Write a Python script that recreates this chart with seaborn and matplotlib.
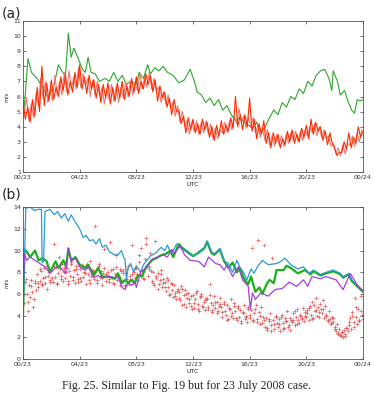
import numpy as np
import pandas as pd
import matplotlib
matplotlib.use("Agg")
import matplotlib.pyplot as plt
import seaborn as sns

# ---- data (hours after 00 UTC 23 July) ----
tick_hours = [0, 4, 8, 12, 16, 20, 24]
tick_labels = ["00/23", "04/23", "08/23", "12/23", "16/23", "20/23", "00/24"]

# (a) observed wind, 10-min steps
obs_a = [5.6, 4.5, 5.3, 4.3, 5.8, 4.7, 6.6, 5.0, 8.0, 5.4, 6.9, 5.7,
         7.1, 5.8, 6.6, 6.0, 7.3, 6.4, 7.4, 6.1, 7.0, 6.3, 7.6, 6.6,
         8.1, 6.5, 7.3, 6.2, 7.4, 6.5, 7.1, 5.9, 6.8, 5.6, 6.8, 5.9,
         6.9, 5.5, 6.6, 5.7, 6.9, 5.9, 7.0, 5.8, 6.7, 6.0, 7.2, 6.3,
         7.3, 6.2, 7.0, 6.5, 7.5, 6.8, 7.4, 6.3, 7.1, 5.7, 6.7, 5.9,
         6.3, 5.3, 5.9, 4.8, 5.8, 5.0, 5.1, 4.2, 4.7, 3.6, 4.6, 3.8,
         4.5, 3.6, 4.2, 3.5, 4.5, 3.8, 4.3, 3.3, 4.0, 3.1, 4.1, 3.4,
         4.4, 3.5, 4.1, 3.7, 4.6, 3.9, 6.0, 4.0, 4.8, 3.8, 4.8, 4.0,
         5.9, 3.7, 4.5, 3.2, 4.2, 3.5, 4.4, 2.9, 3.6, 2.6, 3.6, 2.9,
         3.5, 2.6, 3.2, 2.8, 3.7, 3.0, 3.8, 2.9, 3.5, 3.0, 3.9, 3.3,
         4.1, 3.2, 4.5, 3.5, 4.3, 3.7, 4.0, 3.1, 3.7, 2.8, 3.6, 2.9,
         2.6, 2.1, 2.3, 2.3, 3.0, 2.5, 3.6, 2.6, 3.3, 2.9, 4.0, 3.3, 3.7]
obs_a_hours = [i / 6 for i in range(len(obs_a))]

# (a) second observed trace (lighter), offset 5 min
obs_a2 = [4.9, 5.9, 4.4, 5.5, 4.6, 6.2, 5.4, 7.2, 5.9, 7.0, 5.6, 6.5,
          5.7, 7.4, 6.1, 7.0, 6.1, 7.6, 6.3, 7.7, 6.5, 7.3, 6.5, 7.9,
          6.6, 7.5, 6.7, 7.2, 6.0, 7.1, 6.1, 7.0, 6.0, 6.6, 5.5, 6.5,
          5.8, 6.8, 5.7, 6.7, 5.6, 6.6, 5.9, 7.0, 6.0, 7.0, 6.1, 6.9,
          6.4, 7.5, 6.5, 7.3, 6.6, 7.6, 6.5, 7.2, 6.4, 6.6, 5.6, 6.3,
          5.5, 6.1, 5.2, 5.6, 4.7, 5.4, 4.3, 5.0, 4.0, 4.4, 3.5, 4.3,
          3.7, 4.4, 3.5, 4.3, 3.6, 4.4, 3.5, 4.2, 3.2, 3.9, 3.2, 3.8,
          3.6, 4.3, 3.6, 4.4, 3.8, 4.7, 4.2, 5.2, 4.3, 4.7, 3.9, 4.6,
          4.0, 4.6, 3.6, 4.1, 3.3, 3.9, 3.1, 3.8, 2.8, 3.4, 2.7, 3.5,
          2.8, 3.4, 2.7, 3.5, 2.9, 3.6, 3.1, 3.7, 3.0, 3.7, 3.1, 3.8,
          3.4, 4.0, 3.6, 4.2, 3.4, 4.0, 3.3, 3.8, 3.2, 3.4, 2.7, 2.9,
          2.2, 2.6, 2.1, 2.8, 2.2, 2.9, 2.8, 3.4, 2.7, 3.6, 3.0, 3.8]
obs_a2_hours = [(i + 0.5) / 6 for i in range(len(obs_a2))]

# (a) model wind
mod_a_hours = [0, 0.15, 0.35, 0.6, 1.0, 1.4, 1.8, 2.2, 2.5, 2.8, 3.0, 3.2, 3.4, 3.6,
               3.9, 4.2, 4.4, 4.6, 4.8, 5.1, 5.4, 5.8, 6.1, 6.4, 6.7, 7.0, 7.3, 7.6,
               8.0, 8.2, 8.5, 8.8, 9.0, 9.3, 9.6, 9.9, 10.2, 10.6, 11.0, 11.4, 11.8,
               12.1, 12.3, 12.6, 12.9, 13.2, 13.5, 13.8, 14.1, 14.4, 14.7, 15.0, 15.3,
               15.6, 15.9, 16.2, 16.5, 16.8, 17.1, 17.4, 17.7, 18.0, 18.3, 18.6, 18.9,
               19.2, 19.5, 19.8, 20.1, 20.4, 20.7, 21.0, 21.3, 21.6, 21.8, 21.9, 22.2,
               22.4, 22.7, 22.9, 23.2, 23.4, 23.6, 23.8, 24.0]
mod_a = [4.6, 6.0, 8.5, 7.6, 7.2, 6.6, 5.9, 6.8, 8.1, 7.6, 7.4, 10.2, 8.6, 9.2,
         8.5, 7.8, 7.6, 8.6, 7.6, 7.5, 7.0, 7.2, 7.0, 7.6, 7.0, 7.4, 6.8, 7.0,
         6.8, 7.6, 7.2, 8.1, 7.5, 7.9, 7.7, 8.0, 7.6, 7.4, 6.9, 7.1, 7.8,
         7.0, 6.3, 6.1, 5.6, 5.9, 5.4, 5.8, 5.1, 5.4, 4.8, 4.4, 4.6,
         4.3, 4.1, 3.9, 4.3, 3.6, 4.0, 4.6, 5.1, 4.8, 5.6, 5.3, 6.0,
         5.8, 6.5, 6.2, 7.0, 6.7, 7.4, 7.7, 7.8, 7.2, 6.4, 7.7, 7.0,
         6.1, 6.4, 5.8, 5.1, 4.9, 5.8, 5.7, 5.8]

# (b) observations, 5-min steps
obs_b = [6.5, 5.2, 7.1, 6.0, 4.4, 6.8, 5.7, 7.3, 6.2, 5.5, 7.0, 6.4,
         7.8, 6.6, 7.2, 8.1, 6.9, 7.5, 8.4, 7.0, 6.5, 7.7, 8.0, 7.3,
         8.2, 7.1, 10.6, 7.6, 8.5, 6.9, 7.9, 8.3, 7.4, 8.8, 7.2, 8.0,
         7.5, 8.4, 6.9, 8.1, 7.7, 8.9, 7.3, 8.2, 7.0, 8.6, 7.8, 7.4,
         8.3, 7.2, 8.7, 7.6, 8.0, 6.9, 8.5, 7.8, 7.3, 9.0, 7.7, 8.1,
         7.4, 12.3, 8.2, 7.0, 8.6, 7.6, 8.1, 6.8, 7.9, 8.4, 7.2, 7.7,
         8.0, 7.1, 10.8, 7.5, 8.3, 6.9, 7.8, 8.5, 7.3, 7.6, 6.8, 8.1,
         7.2, 8.2, 6.7, 7.9, 7.4, 8.6, 6.9, 7.7, 10.5, 7.1, 8.0, 7.5,
         8.4, 7.3, 8.9, 7.8, 10.2, 8.1, 7.5, 9.2, 11.2, 8.6, 7.7, 8.3,
         9.8, 7.2, 8.0, 6.8, 10.9, 7.5, 7.9, 6.9, 7.3, 8.2, 6.6, 7.4,
         7.1, 6.3, 7.5, 6.6, 5.9, 7.0, 6.4, 5.7, 6.8, 6.1, 5.5, 6.5,
         6.2, 5.4, 6.7, 5.0, 5.9, 6.4, 4.8, 5.6, 6.1, 5.2, 5.8, 4.6,
         5.9, 4.7, 5.5, 6.3, 5.1, 4.4, 5.7, 6.0, 4.9, 5.3, 4.5, 5.6,
         5.5, 4.6, 6.9, 5.2, 4.3, 5.0, 5.8, 4.7, 5.3, 4.4, 4.9, 5.6,
         4.8, 3.9, 5.3, 4.4, 4.1, 5.0, 3.7, 4.6, 5.5, 4.2, 3.8, 4.9,
         4.4, 3.6, 4.9, 3.9, 4.5, 3.3, 4.2, 5.0, 3.7, 4.0, 3.4, 4.6,
         3.8, 4.5, 10.2, 3.5, 4.2, 5.0, 3.7, 11.0, 4.3, 3.2, 4.8, 3.9,
         10.5, 3.0, 3.8, 2.7, 3.5, 4.2, 3.1, 9.3, 3.6, 2.8, 3.9, 3.3,
         3.0, 3.7, 2.6, 4.1, 3.3, 2.9, 3.8, 3.5, 4.4, 3.1, 2.7, 3.6,
         3.4, 4.2, 3.1, 3.9, 4.6, 3.6, 3.3, 4.1, 3.8, 4.7, 3.5, 4.0,
         3.9, 4.5, 3.6, 4.9, 4.1, 5.3, 3.8, 4.4, 5.6, 4.0, 4.8, 4.3,
         5.1, 4.2, 4.6, 3.8, 4.9, 4.0, 3.5, 4.4, 3.7, 3.2, 3.9, 3.4,
         3.0, 2.6, 3.2, 2.3, 2.8, 2.1, 2.5, 2.0, 2.7, 2.3, 2.9, 2.6,
         3.1, 3.8, 2.8, 4.3, 3.4, 5.6, 3.9, 3.2, 4.6, 3.6, 5.8, 4.1, 3.7]
obs_b_hours = [i / 12 for i in range(len(obs_b))]

# (b) second set of observations, 10-min steps
obs_b2 = [6.0, 7.4, 5.3, 6.7, 4.8, 7.2, 7.0, 8.3, 6.8, 7.6, 8.6, 7.1,
          7.5, 8.6, 7.0, 9.4, 7.7, 8.4, 8.0, 7.2, 8.8, 7.6, 8.3, 7.1,
          7.5, 8.6, 7.9, 8.8, 7.0, 8.2, 8.0, 7.3, 8.8, 7.5, 10.1, 7.8,
          7.4, 8.2, 7.0, 9.6, 7.7, 8.3, 7.9, 6.8, 8.3, 7.3, 7.8, 8.4,
          7.8, 9.6, 8.2, 7.4, 10.6, 8.5, 8.1, 7.0, 7.7, 6.5, 7.8, 7.0,
          6.6, 7.3, 6.0, 6.9, 5.8, 6.3, 5.6, 6.5, 5.1, 6.0, 5.5, 4.9,
          5.2, 6.1, 4.6, 5.8, 4.8, 5.4, 4.8, 5.9, 4.5, 5.3, 4.2, 5.1,
          4.3, 5.1, 3.6, 4.7, 4.0, 5.2, 3.8, 4.7, 3.5, 4.3, 3.9, 4.8,
          4.1, 3.6, 4.6, 3.4, 4.0, 3.3, 3.6, 2.9, 3.7, 2.6, 3.2, 4.0,
          3.2, 3.9, 2.8, 3.5, 3.0, 3.8, 3.6, 4.4, 3.2, 4.0, 3.7, 4.3,
          4.2, 4.7, 3.7, 5.0, 4.5, 3.9, 4.6, 5.4, 4.1, 3.6, 3.3, 3.8,
          2.8, 2.4, 2.2, 2.5, 2.1, 2.9, 3.4, 4.0, 3.0, 4.8, 3.5, 4.4]
obs_b2_hours = [(i + 0.25) / 6 for i in range(len(obs_b2))]

# (b) three model runs
blue_hours = [0, 0.2, 0.5, 0.8, 1.1, 1.3, 1.35, 1.45, 1.55, 1.9, 2.2, 2.45, 2.7, 2.95,
              3.2, 3.4, 3.7, 4.0, 4.25, 4.45, 4.7, 4.95, 5.15, 5.4, 5.6, 5.85, 6.1,
              6.45, 6.7, 6.95, 7.1, 7.2, 7.3, 7.4, 7.6, 7.8, 8.0, 8.3, 8.5, 9.0, 9.4,
              9.75, 10.0, 10.2, 10.45, 10.6, 10.85, 11.05, 11.4, 11.8, 12.1, 12.4,
              12.8, 13.0, 13.3, 13.5, 13.9, 14.2, 14.5, 14.8, 15.1, 15.3, 15.6, 15.8,
              16.1, 16.3, 16.6, 16.9, 17.3, 17.9, 18.2, 18.5, 18.9, 19.4, 19.8, 20.2,
              20.5, 21.0, 21.4, 21.9, 22.4, 22.6, 23.0, 23.2, 23.6, 24.0]
blue = [3.8, 13.9, 14.0, 13.7, 13.8, 13.8, 8.9, 9.0, 13.6, 13.8, 13.3, 13.6, 13.0, 13.4,
        12.7, 13.3, 12.6, 12.0, 11.2, 11.4, 10.9, 11.0, 10.6, 11.1, 10.3, 10.5, 9.9,
        9.6, 9.6, 10.0, 9.4, 9.2, 7.3, 8.3, 8.8, 8.0, 8.6, 8.0, 8.7, 9.5, 9.8,
        10.3, 10.0, 10.5, 9.7, 10.0, 10.6, 10.3, 10.0, 9.6, 9.5, 9.9,
        10.3, 10.9, 9.9, 9.7, 10.2, 9.1, 8.8, 8.0, 9.1, 8.5, 7.9, 7.3,
        8.3, 7.9, 8.6, 9.1, 8.7, 8.8, 9.0, 9.3, 8.7, 8.3, 8.5, 7.9,
        8.2, 7.8, 8.0, 8.2, 7.9, 7.6, 7.9, 7.3, 6.8, 6.3]

green_hours = [0, 0.1, 0.26, 0.5, 0.85, 1.1, 1.4, 1.67, 1.9, 2.3, 2.5, 2.85, 3.05, 3.2,
               3.4, 3.7, 4.0, 4.4, 4.6, 5.0, 5.3, 5.6, 6.1, 6.5, 6.7, 7.0, 7.2, 7.4,
               7.7, 7.9, 8.1, 8.4, 8.7, 9.1, 9.4, 9.8, 10.1, 10.4, 10.6, 11.0, 11.2,
               11.6, 12.0, 12.4, 12.8, 13.0, 13.3, 13.5, 13.9, 14.2, 14.5, 14.8, 15.1,
               15.3, 15.6, 15.9, 16.1, 16.4, 16.7, 16.9, 17.2, 17.4, 17.7, 17.9, 18.4,
               18.6, 18.9, 19.4, 19.9, 20.3, 20.5, 21.0, 21.4, 21.9, 22.4, 22.6, 23.0,
               23.2, 23.6, 24.0]
green = [4.0, 10.1, 9.9, 9.4, 10.0, 9.1, 9.3, 9.0, 8.0, 9.0, 8.4, 9.1, 8.5, 10.2,
         9.1, 9.4, 8.7, 8.4, 8.7, 7.7, 8.4, 7.6, 7.6, 7.4, 7.9, 7.0, 7.3, 7.0,
         7.3, 7.0, 7.7, 7.6, 8.5, 9.1, 9.3, 9.6, 9.7, 10.0, 9.4, 10.6, 10.3,
         9.9, 9.5, 9.8, 10.2, 10.8, 9.8, 9.6, 10.1, 9.0, 8.4, 8.9, 8.0,
         8.4, 7.4, 6.9, 7.6, 6.2, 6.6, 6.0, 6.9, 7.3, 7.0, 8.2, 8.2,
         8.6, 8.4, 7.9, 8.2, 7.8, 8.1, 7.7, 7.9, 8.1, 7.8, 7.5, 7.8,
         7.2, 6.7, 6.2]

purple_hours = [0, 0.1, 0.26, 0.5, 0.85, 1.2, 1.55, 1.9, 2.3, 2.6, 3.0, 3.2, 3.4, 3.7,
                4.0, 4.4, 4.6, 5.0, 5.3, 5.6, 6.1, 6.5, 6.7, 7.0, 7.2, 7.4, 7.7, 7.9,
                8.0, 8.3, 8.7, 9.1, 9.5, 9.9, 10.2, 10.5, 10.7, 11.1, 11.4, 11.8, 12.4,
                12.8, 13.1, 13.6, 13.9, 14.2, 14.4, 14.8, 15.2, 15.5, 15.9, 16.05, 16.2,
                16.4, 16.8, 17.3, 17.8, 18.3, 18.8, 19.3, 19.8, 20.1, 20.4, 21.0, 21.4,
                22.1, 22.6, 23.1, 23.6, 24.0]
purple = [6.3, 9.7, 9.1, 9.4, 9.1, 8.8, 8.5, 7.9, 8.4, 8.5, 7.9, 10.2, 9.0, 9.3,
          8.5, 8.2, 8.5, 7.5, 7.7, 7.5, 7.6, 7.5, 7.6, 6.6, 6.4, 7.0, 6.8, 7.1,
          6.6, 8.0, 8.4, 9.2, 9.4, 9.6, 9.4, 10.1, 9.7, 10.5, 9.6, 9.1, 9.0,
          8.5, 9.4, 8.8, 8.7, 8.2, 8.7, 7.6, 8.5, 7.3, 6.7, 4.6, 6.1,
          5.5, 6.1, 5.8, 6.4, 6.5, 7.1, 6.7, 7.3, 6.7, 7.6, 7.4, 7.6,
          7.3, 6.4, 7.9, 6.8, 6.3]

# ---- figure ----
sns.set_style("ticks")
plt.rcParams['font.family'] = ['DejaVu Sans']

fig = plt.figure(figsize=(3.74, 4.03), dpi=100)
ax_a = fig.add_axes([0.0615, 0.573, 0.909, 0.375])
ax_b = fig.add_axes([0.0615, 0.109, 0.909, 0.377])

sns.lineplot(x=mod_a_hours, y=mod_a, ax=ax_a, color="#2aa82a", lw=0.8, estimator=None, sort=False)
sns.lineplot(x=obs_a2_hours, y=obs_a2, ax=ax_a, color="#f27a70", lw=0.8, estimator=None, sort=False)
sns.lineplot(x=obs_a_hours, y=obs_a, ax=ax_a, color="#ff2a00", lw=0.8, estimator=None, sort=False)

sns.scatterplot(x=obs_b_hours, y=obs_b, ax=ax_b, marker="+", color="#e04545", s=8,
                linewidth=0.5, alpha=0.85)
sns.scatterplot(x=obs_b2_hours, y=obs_b2, ax=ax_b, marker="+", color="#e04545", s=8,
                linewidth=0.5, alpha=0.85)
sns.lineplot(x=green_hours, y=green, ax=ax_b, color="#18b018", lw=1.6, estimator=None, sort=False)
sns.lineplot(x=blue_hours, y=blue, ax=ax_b, color="#2c9ad8", lw=0.9, estimator=None, sort=False)
sns.lineplot(x=purple_hours, y=purple, ax=ax_b, color="#a53ce0", lw=0.9, estimator=None, sort=False)

for ax, yt, ylim in [(ax_a, range(1, 12), (1, 11)), (ax_b, range(0, 15, 2), (0, 14))]:
    ax.set_xlim(0, 24)
    ax.set_ylim(*ylim)
    ax.set_xticks(tick_hours)
    ax.set_xticklabels(tick_labels)
    ax.set_yticks(list(yt))
    ax.tick_params(direction="in", length=2, width=0.5, labelsize=4.5, pad=1.5,
                   top=True, right=True, colors="#333333")
    for sp in ax.spines.values():
        sp.set_linewidth(0.6)
        sp.set_color("#555555")
        sp.set_visible(True)
    ax.set_xlabel("UTC", fontsize=4.5, labelpad=2)
    ax.set_ylabel("m/s", fontsize=4, labelpad=3)

fig.text(0.005, 0.985, "(a)", fontsize=10, va="top", ha="left")
fig.text(0.005, 0.535, "(b)", fontsize=10, va="top", ha="left")
fig.text(0.5, 1 - 386 / 403, "Fig. 25. Similar to Fig. 19 but for 23 July 2008 case.",
         fontsize=8.6, family=["Liberation Serif", "DejaVu Serif"], ha="center", va="center")

fig.savefig("out.png", dpi=100)
